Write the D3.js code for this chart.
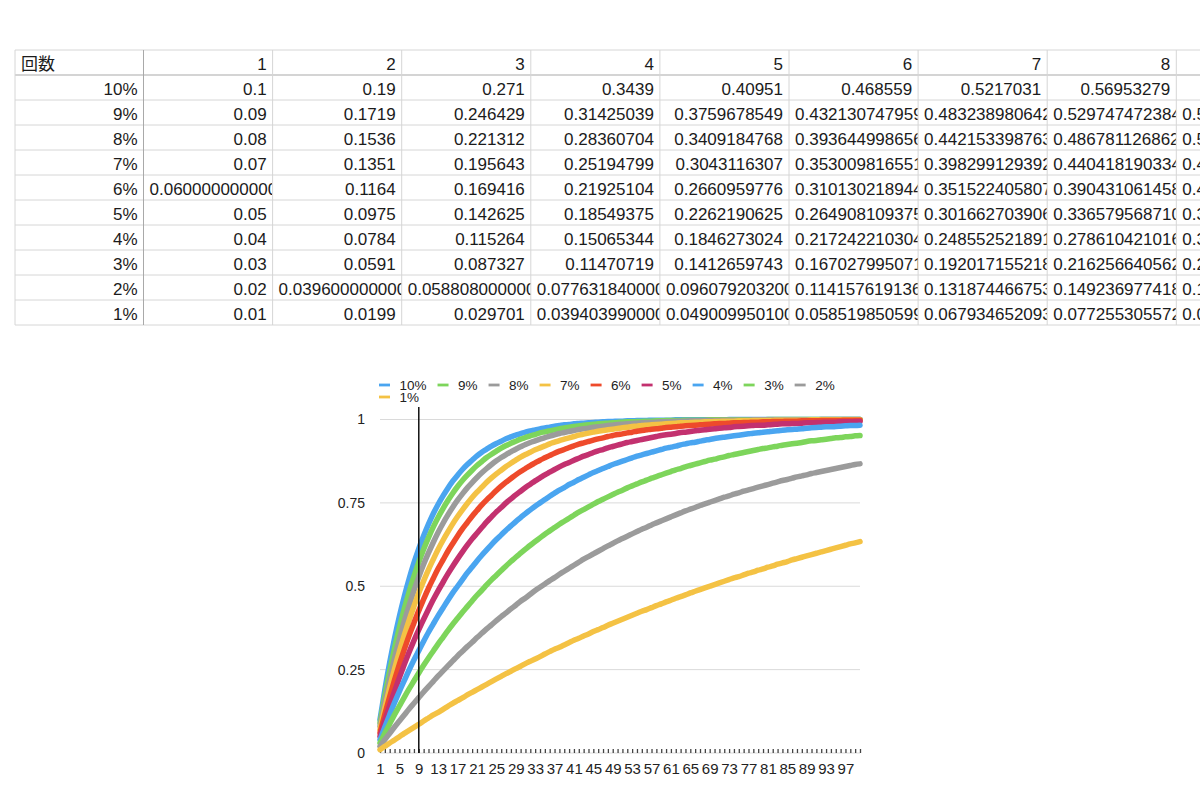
<!DOCTYPE html>
<html>
<head>
<meta charset="utf-8">
<script src="https://cdn.jsdelivr.net/npm/d3@7"></script>
<style>
  body { margin: 0; background: #fff; }
  svg { display: block; }
</style>
</head>
<body>
<svg id="sheet" width="1200" height="800"></svg>
<script>
// ---- table data (as shown in the sheet) ----
const headerCells = ["回数", "1", "2", "3", "4", "5", "6", "7", "8", "9"];
const rateLabels = ["10%", "9%", "8%", "7%", "6%", "5%", "4%", "3%", "2%", "1%"];

const cells10 = ["0.1", "0.19", "0.271", "0.3439", "0.40951", "0.468559", "0.5217031", "0.56953279", "0.612579511"];
const cells09 = ["0.09", "0.1719", "0.246429", "0.31425039", "0.3759678549", "0.432130747959", "0.48323898064269", "0.5297474723848479", "0.5720701998702116"];
const cells08 = ["0.08", "0.1536", "0.221312", "0.28360704", "0.3409184768", "0.393644998656", "0.44215339876352", "0.4867811268624384", "0.5278386367134433"];
const cells07 = ["0.07", "0.1351", "0.195643", "0.25194799", "0.3043116307", "0.353009816551", "0.39829912939243", "0.4404181903349599", "0.479588917011513"];
const cells06 = ["0.06000000000000005", "0.1164", "0.169416", "0.21925104", "0.2660959776", "0.310130218944", "0.35152240580736", "0.3904310614589184", "0.4270051977713833"];
const cells05 = ["0.05", "0.0975", "0.142625", "0.18549375", "0.2262190625", "0.264908109375", "0.30166270390625", "0.3365795687109375", "0.369750590275391"];
const cells04 = ["0.04", "0.0784", "0.115264", "0.15065344", "0.1846273024", "0.217242210304", "0.24855252189184", "0.2786104210161664", "0.3074660041755197"];
const cells03 = ["0.03", "0.0591", "0.087327", "0.11470719", "0.1412659743", "0.167027995071", "0.19201715521887", "0.2162566405623039", "0.2397689413454348"];
const cells02 = ["0.02", "0.03960000000000008", "0.05880800000000004", "0.07763184000000006", "0.09607920320000009", "0.114157619136", "0.13187446675328", "0.1492369774182144", "0.1662522378698501"];
const cells01 = ["0.01", "0.0199", "0.029701", "0.03940399000000004", "0.04900995010000005", "0.058519850599", "0.06793465209301", "0.0772553055720799", "0.0864827525163591"];
const tableRows = [cells10, cells09, cells08, cells07, cells06, cells05, cells04, cells03, cells02, cells01];

// ---- chart data ----
const counts = [
  1, 2, 3, 4, 5, 6, 7, 8, 9, 10, 11, 12, 13, 14, 15, 16, 17, 18, 19, 20,
  21, 22, 23, 24, 25, 26, 27, 28, 29, 30, 31, 32, 33, 34, 35, 36, 37, 38, 39, 40,
  41, 42, 43, 44, 45, 46, 47, 48, 49, 50, 51, 52, 53, 54, 55, 56, 57, 58, 59, 60,
  61, 62, 63, 64, 65, 66, 67, 68, 69, 70, 71, 72, 73, 74, 75, 76, 77, 78, 79, 80,
  81, 82, 83, 84, 85, 86, 87, 88, 89, 90, 91, 92, 93, 94, 95, 96, 97, 98, 99, 100
];
const xTickLabels = [1, 5, 9, 13, 17, 21, 25, 29, 33, 37, 41, 45, 49, 53, 57, 61, 65, 69, 73, 77, 81, 85, 89, 93, 97];
const yTicks = [0, 0.25, 0.5, 0.75, 1];
const yTickLabels = ["0", "0.25", "0.5", "0.75", "1"];
const markedCount = 9;

const rate10 = [
  0.1, 0.19, 0.271, 0.344, 0.41, 0.469, 0.522, 0.57, 0.613, 0.651,
  0.686, 0.718, 0.746, 0.771, 0.794, 0.815, 0.833, 0.85, 0.865, 0.878,
  0.891, 0.902, 0.911, 0.92, 0.928, 0.935, 0.942, 0.948, 0.953, 0.958,
  0.962, 0.966, 0.969, 0.972, 0.975, 0.977, 0.98, 0.982, 0.984, 0.985,
  0.987, 0.988, 0.989, 0.99, 0.991, 0.992, 0.993, 0.994, 0.994, 0.995,
  0.995, 0.996, 0.996, 0.997, 0.997, 0.997, 0.998, 0.998, 0.998, 0.998,
  0.998, 0.999, 0.999, 0.999, 0.999, 0.999, 0.999, 0.999, 0.999, 0.999,
  0.999, 0.999, 1, 1, 1, 1, 1, 1, 1, 1,
  1, 1, 1, 1, 1, 1, 1, 1, 1, 1,
  1, 1, 1, 1, 1, 1, 1, 1, 1, 1
];
const rate09 = [
  0.09, 0.172, 0.246, 0.314, 0.376, 0.432, 0.483, 0.53, 0.572, 0.611,
  0.646, 0.678, 0.707, 0.733, 0.757, 0.779, 0.799, 0.817, 0.833, 0.848,
  0.862, 0.874, 0.886, 0.896, 0.905, 0.914, 0.922, 0.929, 0.935, 0.941,
  0.946, 0.951, 0.955, 0.96, 0.963, 0.966, 0.969, 0.972, 0.975, 0.977,
  0.979, 0.981, 0.983, 0.984, 0.986, 0.987, 0.988, 0.989, 0.99, 0.991,
  0.992, 0.993, 0.993, 0.994, 0.994, 0.995, 0.995, 0.996, 0.996, 0.997,
  0.997, 0.997, 0.997, 0.998, 0.998, 0.998, 0.998, 0.998, 0.999, 0.999,
  0.999, 0.999, 0.999, 0.999, 0.999, 0.999, 0.999, 0.999, 0.999, 0.999,
  1, 1, 1, 1, 1, 1, 1, 1, 1, 1,
  1, 1, 1, 1, 1, 1, 1, 1, 1, 1
];
const rate08 = [
  0.08, 0.154, 0.221, 0.284, 0.341, 0.394, 0.442, 0.487, 0.528, 0.566,
  0.6, 0.632, 0.662, 0.689, 0.714, 0.737, 0.758, 0.777, 0.795, 0.811,
  0.826, 0.84, 0.853, 0.865, 0.876, 0.886, 0.895, 0.903, 0.911, 0.918,
  0.925, 0.931, 0.936, 0.941, 0.946, 0.95, 0.954, 0.958, 0.961, 0.964,
  0.967, 0.97, 0.972, 0.974, 0.977, 0.978, 0.98, 0.982, 0.983, 0.985,
  0.986, 0.987, 0.988, 0.989, 0.99, 0.991, 0.991, 0.992, 0.993, 0.993,
  0.994, 0.994, 0.995, 0.995, 0.996, 0.996, 0.996, 0.997, 0.997, 0.997,
  0.997, 0.998, 0.998, 0.998, 0.998, 0.998, 0.998, 0.999, 0.999, 0.999,
  0.999, 0.999, 0.999, 0.999, 0.999, 0.999, 0.999, 0.999, 0.999, 0.999,
  0.999, 1, 1, 1, 1, 1, 1, 1, 1, 1
];
const rate07 = [
  0.07, 0.135, 0.196, 0.252, 0.304, 0.353, 0.398, 0.44, 0.48, 0.516,
  0.55, 0.581, 0.611, 0.638, 0.663, 0.687, 0.709, 0.729, 0.748, 0.766,
  0.782, 0.797, 0.812, 0.825, 0.837, 0.848, 0.859, 0.869, 0.878, 0.887,
  0.895, 0.902, 0.909, 0.915, 0.921, 0.927, 0.932, 0.937, 0.941, 0.945,
  0.949, 0.953, 0.956, 0.959, 0.962, 0.965, 0.967, 0.969, 0.971, 0.973,
  0.975, 0.977, 0.979, 0.98, 0.982, 0.983, 0.984, 0.985, 0.986, 0.987,
  0.988, 0.989, 0.99, 0.99, 0.991, 0.992, 0.992, 0.993, 0.993, 0.994,
  0.994, 0.995, 0.995, 0.995, 0.996, 0.996, 0.996, 0.997, 0.997, 0.997,
  0.997, 0.997, 0.998, 0.998, 0.998, 0.998, 0.998, 0.998, 0.998, 0.999,
  0.999, 0.999, 0.999, 0.999, 0.999, 0.999, 0.999, 0.999, 0.999, 0.999
];
const rate06 = [
  0.06, 0.116, 0.169, 0.219, 0.266, 0.31, 0.352, 0.39, 0.427, 0.461,
  0.494, 0.524, 0.553, 0.579, 0.605, 0.628, 0.651, 0.672, 0.691, 0.71,
  0.727, 0.744, 0.759, 0.773, 0.787, 0.8, 0.812, 0.823, 0.834, 0.844,
  0.853, 0.862, 0.87, 0.878, 0.885, 0.892, 0.899, 0.905, 0.91, 0.916,
  0.921, 0.926, 0.93, 0.934, 0.938, 0.942, 0.945, 0.949, 0.952, 0.955,
  0.957, 0.96, 0.962, 0.965, 0.967, 0.969, 0.971, 0.972, 0.974, 0.976,
  0.977, 0.978, 0.98, 0.981, 0.982, 0.983, 0.984, 0.985, 0.986, 0.987,
  0.988, 0.988, 0.989, 0.99, 0.99, 0.991, 0.991, 0.992, 0.992, 0.993,
  0.993, 0.994, 0.994, 0.994, 0.995, 0.995, 0.995, 0.996, 0.996, 0.996,
  0.996, 0.997, 0.997, 0.997, 0.997, 0.997, 0.998, 0.998, 0.998, 0.998
];
const rate05 = [
  0.05, 0.098, 0.143, 0.185, 0.226, 0.265, 0.302, 0.337, 0.37, 0.401,
  0.431, 0.46, 0.487, 0.512, 0.537, 0.56, 0.582, 0.603, 0.623, 0.642,
  0.659, 0.676, 0.693, 0.708, 0.723, 0.736, 0.75, 0.762, 0.774, 0.785,
  0.796, 0.806, 0.816, 0.825, 0.834, 0.842, 0.85, 0.858, 0.865, 0.871,
  0.878, 0.884, 0.89, 0.895, 0.901, 0.906, 0.91, 0.915, 0.919, 0.923,
  0.927, 0.931, 0.934, 0.937, 0.94, 0.943, 0.946, 0.949, 0.952, 0.954,
  0.956, 0.958, 0.961, 0.962, 0.964, 0.966, 0.968, 0.969, 0.971, 0.972,
  0.974, 0.975, 0.976, 0.978, 0.979, 0.98, 0.981, 0.982, 0.983, 0.983,
  0.984, 0.985, 0.986, 0.987, 0.987, 0.988, 0.988, 0.989, 0.99, 0.99,
  0.991, 0.991, 0.992, 0.992, 0.992, 0.993, 0.993, 0.993, 0.994, 0.994
];
const rate04 = [
  0.04, 0.078, 0.115, 0.151, 0.185, 0.217, 0.249, 0.279, 0.307, 0.335,
  0.362, 0.387, 0.412, 0.435, 0.458, 0.48, 0.5, 0.52, 0.54, 0.558,
  0.576, 0.593, 0.609, 0.625, 0.64, 0.654, 0.668, 0.681, 0.694, 0.706,
  0.718, 0.729, 0.74, 0.75, 0.76, 0.77, 0.779, 0.788, 0.796, 0.805,
  0.812, 0.82, 0.827, 0.834, 0.841, 0.847, 0.853, 0.859, 0.865, 0.87,
  0.875, 0.88, 0.885, 0.89, 0.894, 0.898, 0.902, 0.906, 0.91, 0.914,
  0.917, 0.92, 0.924, 0.927, 0.93, 0.932, 0.935, 0.938, 0.94, 0.943,
  0.945, 0.947, 0.949, 0.951, 0.953, 0.955, 0.957, 0.959, 0.96, 0.962,
  0.963, 0.965, 0.966, 0.968, 0.969, 0.97, 0.971, 0.972, 0.974, 0.975,
  0.976, 0.977, 0.978, 0.978, 0.979, 0.98, 0.981, 0.982, 0.982, 0.983
];
const rate03 = [
  0.03, 0.059, 0.087, 0.115, 0.141, 0.167, 0.192, 0.216, 0.24, 0.263,
  0.285, 0.306, 0.327, 0.347, 0.367, 0.386, 0.404, 0.422, 0.439, 0.456,
  0.473, 0.488, 0.504, 0.519, 0.533, 0.547, 0.561, 0.574, 0.587, 0.599,
  0.611, 0.623, 0.634, 0.645, 0.656, 0.666, 0.676, 0.686, 0.695, 0.704,
  0.713, 0.722, 0.73, 0.738, 0.746, 0.754, 0.761, 0.768, 0.775, 0.782,
  0.788, 0.795, 0.801, 0.807, 0.813, 0.818, 0.824, 0.829, 0.834, 0.839,
  0.844, 0.849, 0.853, 0.858, 0.862, 0.866, 0.87, 0.874, 0.878, 0.881,
  0.885, 0.888, 0.892, 0.895, 0.898, 0.901, 0.904, 0.907, 0.91, 0.913,
  0.915, 0.918, 0.92, 0.923, 0.925, 0.927, 0.929, 0.931, 0.934, 0.936,
  0.937, 0.939, 0.941, 0.943, 0.945, 0.946, 0.948, 0.949, 0.951, 0.952
];
const rate02 = [
  0.02, 0.04, 0.059, 0.078, 0.096, 0.114, 0.132, 0.149, 0.166, 0.183,
  0.199, 0.215, 0.231, 0.246, 0.261, 0.276, 0.291, 0.305, 0.319, 0.332,
  0.346, 0.359, 0.372, 0.384, 0.397, 0.409, 0.42, 0.432, 0.443, 0.455,
  0.465, 0.476, 0.487, 0.497, 0.507, 0.517, 0.526, 0.536, 0.545, 0.554,
  0.563, 0.572, 0.581, 0.589, 0.597, 0.605, 0.613, 0.621, 0.628, 0.636,
  0.643, 0.65, 0.657, 0.664, 0.671, 0.677, 0.684, 0.69, 0.696, 0.702,
  0.708, 0.714, 0.72, 0.726, 0.731, 0.736, 0.742, 0.747, 0.752, 0.757,
  0.762, 0.767, 0.771, 0.776, 0.78, 0.785, 0.789, 0.793, 0.797, 0.801,
  0.805, 0.809, 0.813, 0.817, 0.82, 0.824, 0.828, 0.831, 0.834, 0.838,
  0.841, 0.844, 0.847, 0.85, 0.853, 0.856, 0.859, 0.862, 0.865, 0.867
];
const rate01 = [
  0.01, 0.02, 0.03, 0.039, 0.049, 0.059, 0.068, 0.077, 0.086, 0.096,
  0.105, 0.114, 0.122, 0.131, 0.14, 0.149, 0.157, 0.165, 0.174, 0.182,
  0.19, 0.198, 0.206, 0.214, 0.222, 0.23, 0.238, 0.245, 0.253, 0.26,
  0.268, 0.275, 0.282, 0.289, 0.297, 0.304, 0.311, 0.317, 0.324, 0.331,
  0.338, 0.344, 0.351, 0.357, 0.364, 0.37, 0.376, 0.383, 0.389, 0.395,
  0.401, 0.407, 0.413, 0.419, 0.425, 0.43, 0.436, 0.442, 0.447, 0.453,
  0.458, 0.464, 0.469, 0.474, 0.48, 0.485, 0.49, 0.495, 0.5, 0.505,
  0.51, 0.515, 0.52, 0.525, 0.529, 0.534, 0.539, 0.543, 0.548, 0.552,
  0.557, 0.561, 0.566, 0.57, 0.574, 0.579, 0.583, 0.587, 0.591, 0.595,
  0.599, 0.603, 0.607, 0.611, 0.615, 0.619, 0.623, 0.627, 0.63, 0.634
];
const seriesValues = [rate10, rate09, rate08, rate07, rate06, rate05, rate04, rate03, rate02, rate01];

// palette repeats every six series
const palette = ["#4aa5f0", "#7dd55b", "#9b9b9b", "#f4c244", "#ee4a2b", "#c3316f"];

const svg = d3.select("#sheet");
const latin = "'Liberation Sans', Arial, Helvetica, sans-serif";

/* ---------- spreadsheet table ---------- */
const tLeft = 15, tTop = 50, firstW = 128.5, colW = 129.1, rowH = 25, pad = 6;
const colX = i => i === 0 ? tLeft : tLeft + firstW + (i - 1) * colW;
const colWidth = i => i === 0 ? firstW : colW;
const nRows = tableRows.length + 1;

const table = svg.append("g").attr("font-family", latin).attr("font-size", 17).attr("fill", "#1b1b1b");

// grid
const grid = table.append("g");
for (let r = 0; r <= nRows; r++) {
  grid.append("line")
    .attr("x1", tLeft).attr("x2", 1200)
    .attr("y1", tTop + r * rowH).attr("y2", tTop + r * rowH)
    .attr("stroke", r === 1 ? "#a9a9a9" : "#d6d6d6").attr("stroke-width", 1);
}
for (let c = 0; c <= headerCells.length; c++) {
  grid.append("line")
    .attr("x1", colX(c)).attr("x2", colX(c))
    .attr("y1", tTop).attr("y2", tTop + nRows * rowH)
    .attr("stroke", c === 1 ? "#a9a9a9" : "#d6d6d6").attr("stroke-width", 1);
}

// each cell clips its own text, long numbers run left-aligned into the edge
function cell(text, c, r, forceLeft, family) {
  const x0 = colX(c), w = colWidth(c), y0 = tTop + r * rowH;
  const box = table.append("svg")
    .attr("x", x0 + 0.5).attr("y", y0).attr("width", w - 1).attr("height", rowH);
  const t = box.append("text").attr("y", 20).text(text);
  if (family) t.attr("font-family", family);
  const tw = t.node().getComputedTextLength();
  if (forceLeft || tw > w - 2 * pad) {
    t.attr("x", pad - 0.5);
  } else {
    t.attr("x", w - pad - 0.5).attr("text-anchor", "end");
  }
}

headerCells.forEach((h, c) => {
  if (c === 0) cell(h, 0, 0, true, "'Noto Sans CJK JP', sans-serif");
  else cell(h, c, 0, false);
});
tableRows.forEach((row, r) => {
  cell(rateLabels[r], 0, r + 1, false);
  row.forEach((v, c) => cell(v, c + 1, r + 1, false));
});

/* ---------- line chart ---------- */
const x = d3.scalePoint().domain(counts).range([380, 860]);
const y = d3.scaleLinear().domain([0, 1]).range([753, 419.5]);

const chart = svg.append("g").attr("font-family", latin);

chart.append("g").selectAll("line").data(yTicks).join("line")
  .attr("x1", 380).attr("x2", 860)
  .attr("y1", d => y(d)).attr("y2", d => y(d))
  .attr("stroke", "#dadada").attr("stroke-width", 1);

chart.append("g").selectAll("text").data(yTicks).join("text")
  .attr("x", 365).attr("y", d => y(d)).attr("dy", "0.35em")
  .attr("text-anchor", "end").attr("font-size", 14).attr("fill", "#222")
  .text((d, i) => yTickLabels[i]);

const xAxis = d3.axisBottom(x)
  .tickSizeInner(-4).tickSizeOuter(0).tickPadding(10)
  .tickFormat(d => xTickLabels.includes(d) ? d : "");
const xg = chart.append("g").attr("transform", `translate(0,${y(0)})`).call(xAxis);
xg.select(".domain").remove();
xg.selectAll(".tick line").attr("stroke", "#444").attr("stroke-width", 1.3);
xg.selectAll(".tick text").attr("font-size", 15).attr("fill", "#222").attr("font-family", latin);

const line = d3.line()
  .x((d, i) => x(counts[i]))
  .y(d => y(d))
  .curve(d3.curveMonotoneX);

chart.append("g").selectAll("path").data(seriesValues).join("path")
  .attr("d", line)
  .attr("fill", "none")
  .attr("stroke", (d, i) => palette[i % palette.length])
  .attr("stroke-width", 5.5)
  .attr("stroke-linecap", "round")
  .attr("stroke-linejoin", "round");

// marker at the selected count
chart.append("line")
  .attr("x1", x(markedCount)).attr("x2", x(markedCount))
  .attr("y1", 407).attr("y2", y(0))
  .attr("stroke", "#111").attr("stroke-width", 1.5);

// legend, wrapping at the plot's right edge
const legend = chart.append("g").attr("font-size", 13.5).attr("fill", "#222");
let lx = 379, ly = 385;
rateLabels.forEach((name, i) => {
  const item = legend.append("g");
  const t = item.append("text").attr("x", 20.5).attr("y", 0).attr("dy", "0.35em").text(name);
  const tw = t.node().getComputedTextLength();
  if (lx + 20.5 + tw > 860) { lx = 379; ly += 12; }
  item.append("line")
    .attr("x1", 0).attr("x2", 11).attr("y1", 0).attr("y2", 0)
    .attr("stroke", palette[i % palette.length]).attr("stroke-width", 2.8);
  item.attr("transform", `translate(${lx},${ly})`);
  lx += 20.5 + tw + 11;
});
</script>
</body>
</html>
